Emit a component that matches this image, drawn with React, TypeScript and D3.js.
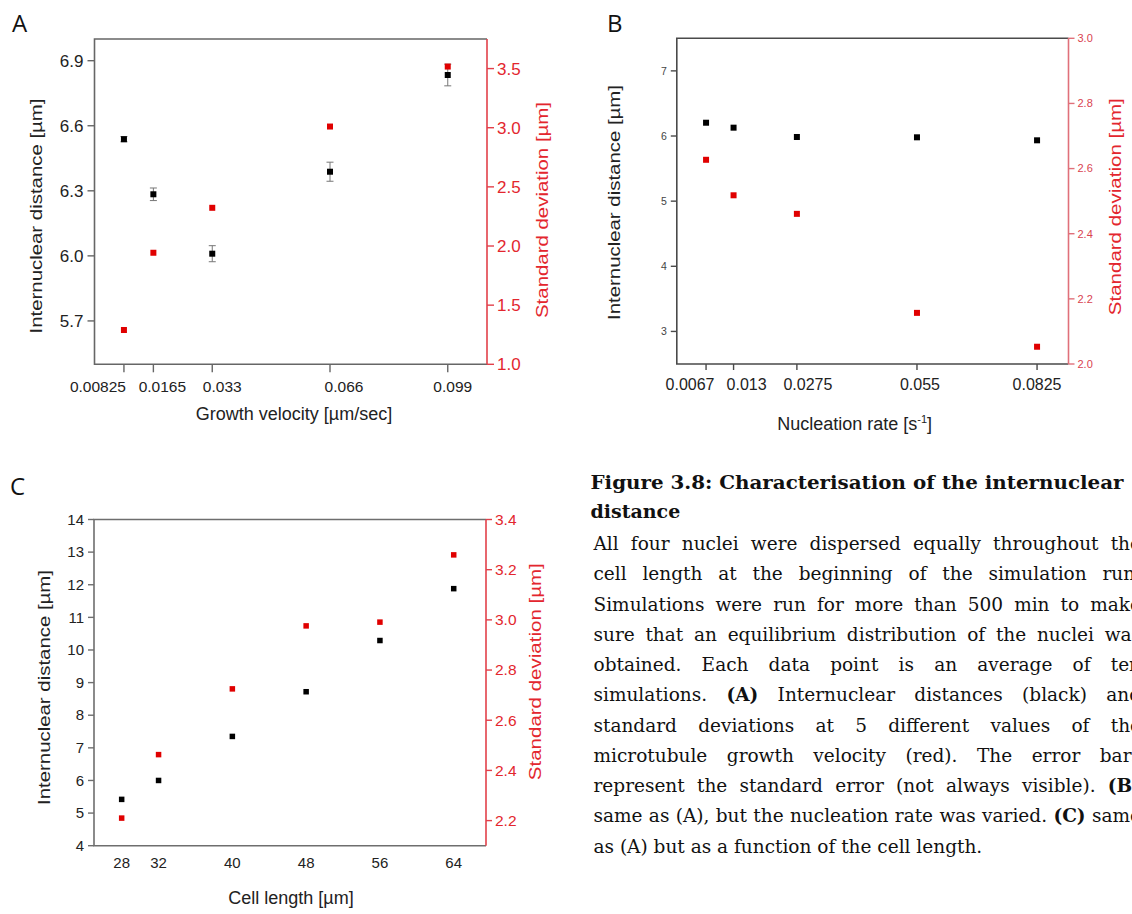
import React, { useEffect, useRef } from 'react'
import * as d3 from 'd3'

// A: growth velocity
const velocity = [0.00825, 0.0165, 0.033, 0.066, 0.099]
const velocityLabels = ['0.00825', '0.0165', '0.033', '0.066', '0.099']
const distVelocity = [6.538, 6.284, 6.01, 6.388, 6.834]
const errVelocity = [0.012, 0.029, 0.037, 0.044, 0.05]
const sdVelocity = [1.29, 1.943, 2.323, 3.01, 3.517]
const distTicksA = [5.7, 6.0, 6.3, 6.6, 6.9]
const sdTicksA = [1.0, 1.5, 2.0, 2.5, 3.0, 3.5]

// B: nucleation rate
const nucleation = [0.0067, 0.013, 0.0275, 0.055, 0.0825]
const nucleationLabels = ['0.0067', '0.013', '0.0275', '0.055', '0.0825']
const distNucleation = [6.204, 6.128, 5.985, 5.98, 5.934]
const sdNucleation = [2.627, 2.518, 2.461, 2.157, 2.053]
const distTicksB = [3, 4, 5, 6, 7]
const sdTicksB = [2.0, 2.2, 2.4, 2.6, 2.8, 3.0]

// C: cell length
const cellLength = [28, 32, 40, 48, 56, 64]
const cellLabels = ['28', '32', '40', '48', '56', '64']
const distCell = [5.42, 6.0, 7.35, 8.72, 10.29, 11.88]
const sdCell = [2.21, 2.463, 2.725, 2.976, 2.991, 3.259]
const distTicksC = [4, 5, 6, 7, 8, 9, 10, 11, 12, 13, 14]
const sdTicksC = [2.2, 2.4, 2.6, 2.8, 3.0, 3.2, 3.4]

const captionTitle = ['Figure 3.8: Characterisation of the internuclear', 'distance']
const captionLines = [
  'All four nuclei were dispersed equally throughout the',
  'cell length at the beginning of the simulation run.',
  'Simulations were run for more than 500 min to make',
  'sure that an equilibrium distribution of the nuclei was',
  'obtained. Each data point is an average of ten',
  'simulations. **(A)** Internuclear distances (black) and',
  'standard deviations at 5 different values of the',
  'microtubule growth velocity (red). The error bars',
  'represent the standard error (not always visible). **(B)**',
  'same as (A), but the nucleation rate was varied. **(C)** same',
  'as (A) but as a function of the cell length.',
]

const SANS = "'Liberation Sans', Arial, sans-serif"
const RED = '#e00000'

type PanelProps = {
  letter: string
  letterPos: [number, number]
  box: { left: number; right: number; top: number; bottom: number }
  xDomain: [number, number]
  yLDomain: [number, number]
  yRDomain: [number, number]
  xs: number[]
  xLabels: string[]
  xShift?: number[]
  xTickLen: number
  xLabelY: number
  xFont: number
  dist: number[]
  err?: number[]
  sd: number[]
  lTicks: number[]
  rTicks: number[]
  lFmt: (v: number) => string
  rFmt: (v: number) => string
  lFont: number
  rFont: number
  lColor: string
  rColor: string
  frame: string
  rAxis: string
  tickLen: number
  marker: number
  xTitle: React.ReactNode
  xTitlePos: [number, number]
  lTitlePos: [number, number, number]
  rTitlePos: [number, number, number]
}

function Panel(p: PanelProps) {
  const { left, right, top, bottom } = p.box
  const x = d3.scaleLinear().domain(p.xDomain).range([left, right])
  const yL = d3.scaleLinear().domain(p.yLDomain).range([bottom, top])
  const yR = d3.scaleLinear().domain(p.yRDomain).range([bottom, top])
  const m = p.marker

  return (
    <g fontFamily={SANS}>
      <text x={p.letterPos[0]} y={p.letterPos[1]} fontFamily="'Open Sans', sans-serif" fontSize={24} fill="#111">
        {p.letter}
      </text>

      <path d={`M${right},${top}H${left}V${bottom}H${right}`} fill="none" stroke={p.frame} strokeWidth={1.6} />
      <line x1={right} x2={right} y1={top} y2={bottom} stroke={p.rAxis} strokeWidth={1.6} />

      {p.lTicks.map(t => (
        <g key={'l' + t}>
          <line x1={left - p.tickLen} x2={left} y1={yL(t)} y2={yL(t)} stroke={p.frame} strokeWidth={1.4} />
          <text x={left - p.tickLen - 4} y={yL(t)} dy="0.35em" textAnchor="end" fontSize={p.lFont} fill={p.lColor}>
            {p.lFmt(t)}
          </text>
        </g>
      ))}

      {p.rTicks.map(t => (
        <g key={'r' + t}>
          <line x1={right} x2={right + p.tickLen} y1={yR(t)} y2={yR(t)} stroke={p.rAxis} strokeWidth={1.4} />
          <text x={right + p.tickLen + 3} y={yR(t)} dy="0.35em" fontSize={p.rFont} fill={p.rColor}>
            {p.rFmt(t)}
          </text>
        </g>
      ))}

      {p.xs.map((v, i) => (
        <g key={'x' + v}>
          {p.xTickLen > 0 && (
            <line x1={x(v)} x2={x(v)} y1={bottom} y2={bottom + p.xTickLen} stroke={p.frame} strokeWidth={1.4} />
          )}
          <text x={x(v) + (p.xShift ? p.xShift[i] : 0)} y={p.xLabelY} textAnchor="middle" fontSize={p.xFont} fill="#222">
            {p.xLabels[i]}
          </text>
        </g>
      ))}

      {p.err && p.xs.map((v, i) => {
        const y0 = yL(p.dist[i] - p.err![i])
        const y1 = yL(p.dist[i] + p.err![i])
        return (
          <g key={'e' + v} stroke="#777" strokeWidth={1}>
            <line x1={x(v)} x2={x(v)} y1={y0} y2={y1} />
            <line x1={x(v) - 3.5} x2={x(v) + 3.5} y1={y0} y2={y0} />
            <line x1={x(v) - 3.5} x2={x(v) + 3.5} y1={y1} y2={y1} />
          </g>
        )
      })}

      {p.xs.map((v, i) => (
        <rect key={'b' + v} x={x(v) - m / 2} y={yL(p.dist[i]) - m / 2} width={m} height={m} fill="#000" />
      ))}
      {p.xs.map((v, i) => (
        <rect key={'s' + v} x={x(v) - m / 2} y={yR(p.sd[i]) - m / 2} width={m} height={m} fill={RED} />
      ))}

      <text x={p.xTitlePos[0]} y={p.xTitlePos[1]} textAnchor="middle" fontSize={18} fill="#222">
        {p.xTitle}
      </text>
      <text
        transform={`translate(${p.lTitlePos[0]},${p.lTitlePos[1]}) rotate(-90)`}
        textAnchor="middle" fontSize={17} fill="#222"
        textLength={p.lTitlePos[2]} lengthAdjust="spacingAndGlyphs"
      >
        Internuclear distance [µm]
      </text>
      <text
        transform={`translate(${p.rTitlePos[0]},${p.rTitlePos[1]}) rotate(-90)`}
        textAnchor="middle" fontSize={17} fill="#e3262e"
        textLength={p.rTitlePos[2]} lengthAdjust="spacingAndGlyphs"
      >
        Standard deviation [µm]
      </text>
    </g>
  )
}

const COL_LEFT = 593.5
const COL_RIGHT = 1141

function Caption() {
  const ref = useRef<SVGGElement>(null)

  useEffect(() => {
    if (!ref.current) return
    d3.select(ref.current).selectAll<SVGTextElement, unknown>('text.justify').each(function () {
      const el = d3.select(this)
      el.attr('word-spacing', 0)
      const w = this.getComputedTextLength()
      const spaces = (this.textContent || '').split(' ').length - 1
      if (spaces > 0) el.attr('word-spacing', (COL_RIGHT - COL_LEFT - w) / spaces)
    })
  }, [])

  return (
    <g ref={ref} fontFamily="'DejaVu Serif', serif" fill="#111">
      <text x={590.5} y={489} fontSize={19} fontWeight="bold" textLength={533} lengthAdjust="spacingAndGlyphs">
        {captionTitle[0]}
      </text>
      <text x={590.5} y={518} fontSize={19} fontWeight="bold">{captionTitle[1]}</text>
      {captionLines.map((line, i) => {
        const parts = line.split('**')
        return (
          <text
            key={i}
            className={i < captionLines.length - 1 ? 'justify' : undefined}
            x={COL_LEFT} y={550 + i * 30.25} fontSize={18.5}
          >
            {parts.map((s, j) => (
              <tspan key={j} fontWeight={j % 2 === 1 ? 'bold' : 'normal'}>{s}</tspan>
            ))}
          </text>
        )
      })}
    </g>
  )
}

const fmt1 = d3.format('.1f')
const fmt0 = d3.format('d')

export default function App() {
  return (
    <>
      <style>{'body{margin:0;overflow:hidden}'}</style>
      <svg width={1132} height={914} style={{ display: 'block', background: '#fff' }}>
        <Panel
          letter="A" letterPos={[12, 32]}
          box={{ left: 94.5, right: 487, top: 39, bottom: 364.3 }}
          xDomain={[0, 0.11]} yLDomain={[5.5, 7.0]} yRDomain={[1.0, 3.75]}
          xs={velocity} xLabels={velocityLabels} xShift={[-26, 9, 10, 14, 5]}
          xTickLen={8} xLabelY={392} xFont={15.5}
          dist={distVelocity} err={errVelocity} sd={sdVelocity}
          lTicks={distTicksA} rTicks={sdTicksA} lFmt={fmt1} rFmt={fmt1}
          lFont={17} rFont={17} lColor="#222" rColor="#e3262e"
          frame="#666" rAxis="#e2404a" tickLen={7} marker={6}
          xTitle="Growth velocity [µm/sec]" xTitlePos={[294, 420]}
          lTitlePos={[41.5, 216, 235]} rTitlePos={[548, 210, 216]}
        />
        <Panel
          letter="B" letterPos={[607, 32]}
          box={{ left: 676.8, right: 1068.5, top: 38.3, bottom: 364 }}
          xDomain={[0, 0.0897]} yLDomain={[2.5, 7.5]} yRDomain={[2, 3]}
          xs={nucleation} xLabels={nucleationLabels} xShift={[-16, 13, 11, 3, 0]}
          xTickLen={6} xLabelY={390} xFont={16}
          dist={distNucleation} sd={sdNucleation}
          lTicks={distTicksB} rTicks={sdTicksB} lFmt={fmt0} rFmt={fmt1}
          lFont={10.5} rFont={11} lColor="#444" rColor="#d9434f"
          frame="#4a4a4a" rAxis="#e0707a" tickLen={6} marker={6}
          xTitle={<>Nucleation rate [s<tspan dy={-7} fontSize={11}>-1</tspan><tspan dy={7}>]</tspan></>}
          xTitlePos={[854.6, 430]}
          lTitlePos={[620, 202.5, 235]} rTitlePos={[1121, 206.7, 217]}
        />
        <Panel
          letter="C" letterPos={[10, 495]}
          box={{ left: 94, right: 486, top: 519.5, bottom: 845.7 }}
          xDomain={[25, 67.5]} yLDomain={[4, 14]} yRDomain={[2.1, 3.4]}
          xs={cellLength} xLabels={cellLabels}
          xTickLen={0} xLabelY={868} xFont={15}
          dist={distCell} sd={sdCell}
          lTicks={distTicksC} rTicks={sdTicksC} lFmt={fmt0} rFmt={fmt1}
          lFont={15} rFont={15.5} lColor="#222" rColor="#e3262e"
          frame="#6e6e6e" rAxis="#e2404a" tickLen={6} marker={5.5}
          xTitle="Cell length [µm]" xTitlePos={[291, 904]}
          lTitlePos={[50, 687.5, 235]} rTitlePos={[541, 671.7, 217]}
        />
        <Caption />
      </svg>
    </>
  )
}
